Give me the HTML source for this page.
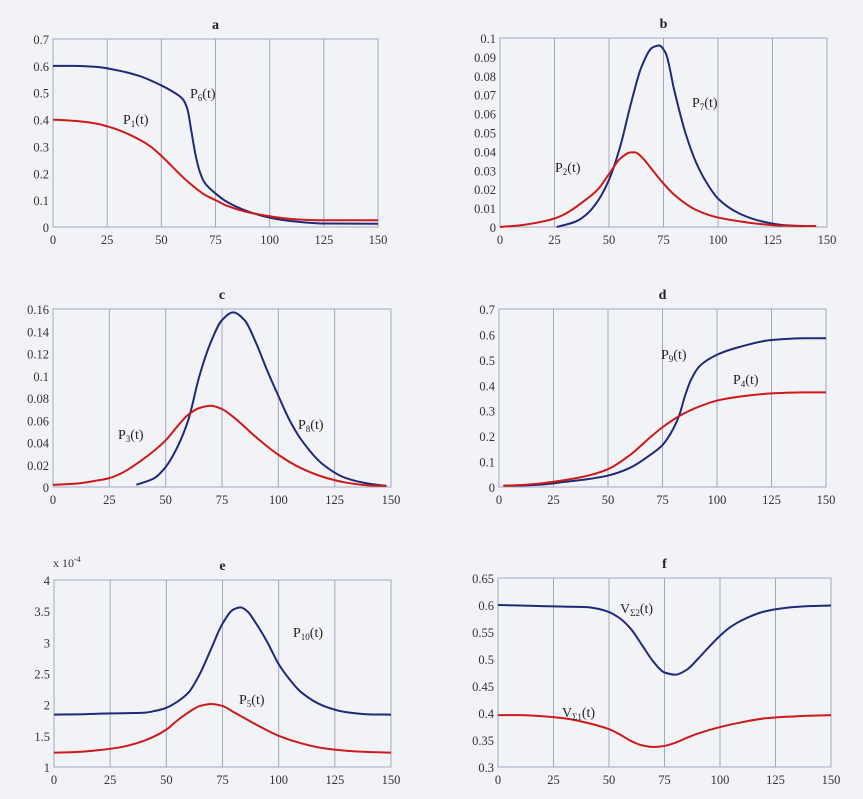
<!DOCTYPE html>
<html><head><meta charset="utf-8"><style>
html,body{margin:0;padding:0;background:#f2f3f7;}
svg{display:block;font-family:"Liberation Serif",serif;}
</style></head><body>
<svg id="chart" width="863" height="799" viewBox="0 0 863 799" xmlns="http://www.w3.org/2000/svg">
<rect x="0" y="0" width="863" height="799" fill="#f2f3f7"/>
</svg>
<script>
const xTicks = [0,25,50,75,100,125,150];
// panel a
const aP6t = [0,10,20,30,40,50,55,60,62,64,66,68,70,75,80,90,100,110,125,150];
const aP6y = [.6,.6,.596,.583,.562,.527,.505,.475,.44,.35,.26,.2,.165,.125,.095,.058,.035,.022,.013,.012];
const aP1t = [0,10,20,25,30,40,45,50,55,60,65,70,75,80,90,100,110,125,150];
const aP1y = [.4,.395,.385,.375,.362,.325,.3,.265,.225,.185,.15,.12,.1,.08,.055,.04,.03,.025,.025];
// panel b
const bP7t = [26,35,40,45,50,55,60,65,70,73,76,80,85,90,95,100,110,120,130,140,145];
const bP7y = [0,.003,.007,.014,.025,.042,.065,.085,.095,.096,.092,.072,.05,.034,.023,.015,.007,.003,.001,.0005,.0005];
const bP2t = [0,10,20,25,30,40,45,50,55,60,62,65,70,75,80,90,100,110,120,130,145];
const bP2y = [0,.001,.003,.0045,.007,.015,.02,.028,.036,.0395,.0395,.037,.03,.023,.017,.009,.005,.003,.0015,.0007,.0005];
// panel c
const cP8t = [37,45,50,55,60,65,70,75,80,85,90,95,100,105,110,120,130,140,148];
const cP8y = [.002,.008,.018,.035,.06,.1,.13,.15,.157,.15,.13,.105,.082,.06,.043,.02,.008,.003,.001];
const cP3t = [0,10,20,25,30,40,50,55,60,65,70,75,80,90,100,110,120,130,140,148];
const cP3y = [.002,.003,.006,.008,.012,.025,.042,.054,.065,.071,.073,.07,.063,.045,.029,.017,.009,.004,.0015,.001];
// panel d
const dP9t = [2,10,20,30,40,50,60,70,75,80,83,85,88,92,100,110,125,140,150];
const dP9y = [.005,.006,.01,.02,.03,.045,.075,.13,.165,.23,.29,.35,.42,.475,.52,.55,.578,.585,.585];
const dP4t = [2,10,20,30,40,50,60,70,75,80,85,90,100,110,125,140,150];
const dP4y = [.005,.008,.015,.027,.043,.07,.125,.2,.235,.265,.29,.31,.34,.355,.368,.372,.372];
// panel e (x 1e-4)
const eP10t = [0,10,25,40,45,50,55,60,65,70,75,80,83,86,90,95,100,105,110,120,130,140,150];
const eP10y = [1.84,1.845,1.86,1.87,1.9,1.95,2.05,2.2,2.5,2.9,3.3,3.53,3.56,3.5,3.3,3.0,2.65,2.4,2.2,1.98,1.88,1.845,1.84];
const eP5t = [0,10,20,30,40,50,55,60,65,70,75,80,90,100,110,120,130,140,150];
const eP5y = [1.23,1.24,1.27,1.32,1.42,1.6,1.75,1.88,1.98,2.01,1.98,1.88,1.68,1.5,1.38,1.3,1.26,1.24,1.23];
// panel f
const fV2t = [0,10,20,30,40,45,50,55,60,65,70,75,80,85,90,95,100,105,110,120,130,140,150];
const fV2y = [.6,.599,.598,.597,.596,.593,.587,.575,.555,.525,.495,.475,.471,.48,.5,.522,.543,.56,.572,.588,.595,.598,.599];
const fV1t = [0,10,20,30,40,50,55,60,65,70,75,80,85,90,100,110,120,130,140,150];
const fV1y = [.396,.396,.394,.39,.382,.37,.36,.348,.34,.337,.339,.345,.354,.362,.374,.383,.39,.393,.395,.396];

const aYTicks = ['0','0.1','0.2','0.3','0.4','0.5','0.6','0.7'];
const bYTicks = ['0','0.01','0.02','0.03','0.04','0.05','0.06','0.07','0.08','0.09','0.1'];
const cYTicks = ['0','0.02','0.04','0.06','0.08','0.1','0.12','0.14','0.16'];
const dYTicks = ['0','0.1','0.2','0.3','0.4','0.5','0.6','0.7'];
const eYTicks = ['1','1.5','2','2.5','3','3.5','4'];
const fYTicks = ['0.3','0.35','0.4','0.45','0.5','0.55','0.6','0.65'];

const NS='http://www.w3.org/2000/svg';
const svg=document.getElementById('chart');
const BLUE='#1f2a78', RED='#cc1a1a', GRID='#a3a7bf';
function mk(tag,attrs,parent){const e=document.createElementNS(NS,tag);for(const k in attrs)e.setAttribute(k,attrs[k]);(parent||svg).appendChild(e);return e;}

function monotonePath(xs,ys){
  const n=xs.length, d=[], m=new Array(n);
  for(let i=0;i<n-1;i++) d.push((ys[i+1]-ys[i])/(xs[i+1]-xs[i]));
  m[0]=d[0]; m[n-1]=d[n-2];
  for(let i=1;i<n-1;i++){
    if(d[i-1]*d[i]<=0) m[i]=0;
    else{const h0=xs[i]-xs[i-1],h1=xs[i+1]-xs[i];const w1=2*h1+h0,w2=h1+2*h0;m[i]=(w1+w2)/(w1/d[i-1]+w2/d[i]);}
  }
  let p='M'+xs[0].toFixed(2)+','+ys[0].toFixed(2);
  for(let i=0;i<n-1;i++){
    const h=xs[i+1]-xs[i];
    p+=' C'+(xs[i]+h/3).toFixed(2)+','+(ys[i]+m[i]*h/3).toFixed(2)+' '+(xs[i+1]-h/3).toFixed(2)+','+(ys[i+1]-m[i+1]*h/3).toFixed(2)+' '+xs[i+1].toFixed(2)+','+ys[i+1].toFixed(2);
  }
  return p;
}

function panel(id,title,box,yTicks,series,labels){
  const g=mk('g',{});
  
  
  const [x0,y0,x1,y1]=box;
  const ymin=parseFloat(yTicks[0]), ymax=parseFloat(yTicks[yTicks.length-1]);
  const sx=t=>x0+(t-0)/150*(x1-x0);
  const sy=v=>y1-(v-ymin)/(ymax-ymin)*(y1-y0);
  const tt=mk('text',{x:(x0+x1)/2,y:y0-10,'text-anchor':'middle','font-size':'14','font-weight':'bold',fill:'#222'},g);
  tt.textContent=title;
  
  
  xTicks.forEach(t=>{
    const ln=mk('line',{x1:sx(t),x2:sx(t),y1:y0,y2:y1,stroke:GRID,'stroke-width':1},g);
    
    
    const lb=mk('text',{x:sx(t),y:y1+17,'text-anchor':'middle','font-size':'12.5',fill:'#333'},g);
    lb.textContent=t;
    
    
  });
  const fr=mk('rect',{x:x0,y:y0,width:x1-x0,height:y1-y0,fill:'none',stroke:GRID,'stroke-width':1},g);
  
  
  yTicks.forEach(s=>{
    const lb=mk('text',{x:x0-4,y:sy(parseFloat(s))+5,'text-anchor':'end','font-size':'12.5',fill:'#333'},g);
    lb.textContent=s;
    
    
  });
  series.forEach(([name,ts,ys,col])=>{
    const d=monotonePath(ts.map(sx),ys.map(sy));
    const p=mk('path',{d:d,fill:'none',stroke:col,'stroke-width':2},g);
    
    
  });
  labels.forEach(([main,sub,x,y])=>{
    const t=mk('text',{x:x,y:y,'font-size':'14',fill:'#222'},g);
    
    
    const a=mk('tspan',{},t);a.textContent=main;
    const b=mk('tspan',{dy:'3','font-size':'9'},t);b.textContent=sub;
    const c=mk('tspan',{dy:'-3'},t);c.textContent='(t)';
  });
}

panel('a','a',[53,39,378,227],aYTicks,[['p6',aP6t,aP6y,BLUE],['p1',aP1t,aP1y,RED]],[['P','6',190,98],['P','1',123,124]]);
panel('b','b',[500,38,827,227],bYTicks,[['p7',bP7t,bP7y,BLUE],['p2',bP2t,bP2y,RED]],[['P','7',692,107],['P','2',555,172]]);
panel('c','c',[53,309,391,487],cYTicks,[['p8',cP8t,cP8y,BLUE],['p3',cP3t,cP3y,RED]],[['P','8',298,429],['P','3',118,439]]);
panel('d','d',[499,309,826,487],dYTicks,[['p9',dP9t,dP9y,BLUE],['p4',dP4t,dP4y,RED]],[['P','9',661,359],['P','4',733,384]]);
panel('e','e',[54,580,391,767],eYTicks,[['p10',eP10t,eP10y,BLUE],['p5',eP5t,eP5y,RED]],[['P','10',293,637],['P','5',239,704]]);
panel('f','f',[498,578,831,767],fYTicks,[['v2',fV2t,fV2y,BLUE],['v1',fV1t,fV1y,RED]],[['V','Σ2',620,613],['V','Σ1',562,717]]);

const sc=mk('text',{x:53,y:567,'font-size':'12',fill:'#333'});


const s1=mk('tspan',{},sc);s1.textContent='x 10';
const s2=mk('tspan',{dy:'-5','font-size':'8'},sc);s2.textContent='-4';
</script>
</body></html>
